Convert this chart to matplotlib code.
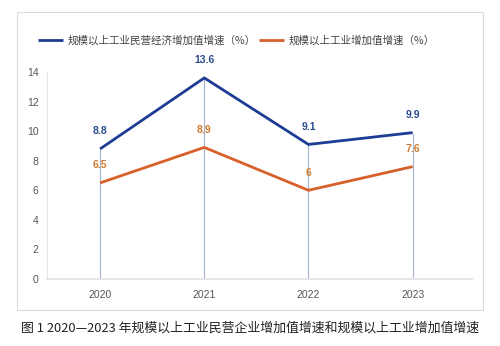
import matplotlib.pyplot as plt
from matplotlib.patches import Rectangle

plt.rcParams['font.family'] = ['Noto Sans CJK SC', 'DejaVu Sans']

years = ['2020', '2021', '2022', '2023']
private_growth = [8.8, 13.6, 9.1, 9.9]
industry_growth = [6.5, 8.9, 6, 7.6]
private_labels = ['8.8', '13.6', '9.1', '9.9']
industry_labels = ['6.5', '8.9', '6', '7.6']
series_names = ['规模以上工业民营经济增加值增速（%）', '规模以上工业增加值增速（%）']
caption = '图 1 2020—2023 年规模以上工业民营企业增加值增速和规模以上工业增加值增速'

blue = '#1d3c93'
orange = '#d8602a'

fig = plt.figure(figsize=(5, 3.46), dpi=100)
# outer frame
fig.patches.append(Rectangle((17 / 500, 1 - 310 / 346), 466 / 500, 298 / 346,
                             transform=fig.transFigure, fill=False,
                             edgecolor='#dcdcdc', lw=0.8))

ax = fig.add_axes([47 / 500, 1 - 279 / 346, 425 / 500, 207 / 346])
x = range(len(years))

# drop lines from each point to zero
ax.vlines(x, 0, private_growth, color='#a3b2ca', lw=0.8, zorder=1)

l1, = ax.plot(x, private_growth, color=blue, lw=2, zorder=3, solid_capstyle='butt')
l2, = ax.plot(x, industry_growth, color=orange, lw=2, zorder=3, solid_capstyle='butt')

for i in x:
    ax.annotate(private_labels[i], (i, private_growth[i]), xytext=(0, 9),
                textcoords='offset points', ha='center', va='bottom',
                fontsize=7.5, fontweight='bold', color='#2a4a8c', family='Liberation Sans')
    ax.annotate(industry_labels[i], (i, industry_growth[i]), xytext=(0, 9),
                textcoords='offset points', ha='center', va='bottom',
                fontsize=7.5, fontweight='bold', color='#d07a30', family='Liberation Sans')

ax.set_ylim(0, 14)
ax.set_xlim(-0.51, 3.57)
ax.set_yticks(range(0, 15, 2))
ax.set_xticks(list(x))
ax.set_xticklabels(years)
ax.tick_params(length=0, labelsize=7.5, colors='#555555')
for lab in ax.get_xticklabels() + ax.get_yticklabels():
    lab.set_family('Liberation Sans')
ax.tick_params(axis='y', pad=6)
ax.tick_params(axis='x', pad=8)
for s in ['top', 'right']:
    ax.spines[s].set_visible(False)
ax.spines['left'].set_color('#e6e6e6')
ax.spines['bottom'].set_color('#e0e0e0')
ax.spines['left'].set_linewidth(0.8)
ax.spines['bottom'].set_linewidth(1.2)

fig.legend([l1, l2], series_names, loc='center', bbox_to_anchor=(236 / 500, 1 - 40 / 346),
           ncol=2, frameon=False, fontsize=7.6, handlelength=2.4, handletextpad=0.4,
           columnspacing=0.3, labelcolor='#444444')

fig.text(250 / 500, 1 - 328 / 346, caption, ha='center', va='center', fontsize=9.3,
         color='#222222')

fig.savefig('out.png', dpi=100)
